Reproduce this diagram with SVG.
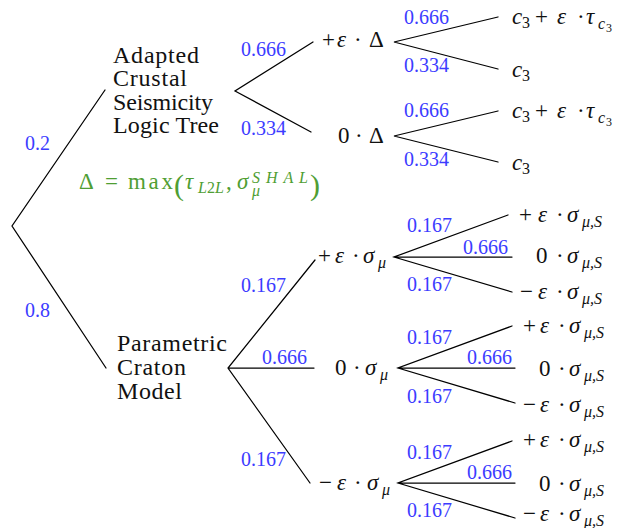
<svg xmlns="http://www.w3.org/2000/svg" width="624" height="528" viewBox="0 0 624 528" font-family="Liberation Serif, serif">
<rect x="0" y="0" width="624" height="528" fill="#ffffff"/>

<g id="connectors" stroke="#000" stroke-width="1.25" fill="none" stroke-linecap="round">
<path d="M105,90 L12,226 L106,368"/>
<path d="M313,42 L235,91 L311,132"/>
<path d="M498,17 L394,42 L498,69"/>
<path d="M498,111 L394,136 L498,162"/>
<path d="M315,260 L228,368 L310,483 M228,368 H314"/>
<path d="M508,215 L394,257 L512,292 M394,257 H512"/>
<path d="M512,326 L398,368 L515,403 M398,368 H515"/>
<path d="M512,441 L398,483 L515,518 M398,483 H515"/>
</g>

<g id="edge-labels" font-family="Liberation Serif, serif" font-size="20" fill="#3c3cff">
<text font-family="Liberation Serif, serif" x="25" y="150">0.2</text>
<text font-family="Liberation Serif, serif" x="25" y="317">0.8</text>
<text font-family="Liberation Serif, serif" x="241" y="56">0.666</text>
<text font-family="Liberation Serif, serif" x="241" y="135">0.334</text>
<text font-family="Liberation Serif, serif" x="404" y="24">0.666</text>
<text font-family="Liberation Serif, serif" x="404" y="72">0.334</text>
<text font-family="Liberation Serif, serif" x="404" y="117">0.666</text>
<text font-family="Liberation Serif, serif" x="404" y="166">0.334</text>
<text font-family="Liberation Serif, serif" x="241" y="292">0.167</text>
<text font-family="Liberation Serif, serif" x="262" y="364">0.666</text>
<text font-family="Liberation Serif, serif" x="241" y="466">0.167</text>
<text font-family="Liberation Serif, serif" x="407" y="232">0.167</text>
<text font-family="Liberation Serif, serif" x="463" y="254">0.666</text>
<text font-family="Liberation Serif, serif" x="407" y="291">0.167</text>
<text font-family="Liberation Serif, serif" x="407" y="344">0.167</text>
<text font-family="Liberation Serif, serif" x="467" y="364">0.666</text>
<text font-family="Liberation Serif, serif" x="407" y="403">0.167</text>
<text font-family="Liberation Serif, serif" x="407" y="459">0.167</text>
<text font-family="Liberation Serif, serif" x="467" y="479">0.666</text>
<text font-family="Liberation Serif, serif" x="407" y="517">0.167</text>
</g>

<g id="node-crustal" font-family="Liberation Serif, serif" font-size="24" fill="#111">
<text font-family="Liberation Serif, serif" x="113" y="63" textLength="86" lengthAdjust="spacing">Adapted</text>
<text font-family="Liberation Serif, serif" x="113" y="86" textLength="74" lengthAdjust="spacing">Crustal</text>
<text font-family="Liberation Serif, serif" x="113" y="109.5" textLength="100" lengthAdjust="spacing">Seismicity</text>
<text font-family="Liberation Serif, serif" x="113" y="133" textLength="106" lengthAdjust="spacing">Logic Tree</text>
</g>

<g id="node-craton" font-family="Liberation Serif, serif" font-size="24" fill="#111">
<text font-family="Liberation Serif, serif" x="117" y="351" textLength="110" lengthAdjust="spacing">Parametric</text>
<text font-family="Liberation Serif, serif" x="117" y="375" textLength="69" lengthAdjust="spacing">Craton</text>
<text font-family="Liberation Serif, serif" x="117" y="399" textLength="65" lengthAdjust="spacing">Model</text>
</g>

<g id="node-delta-def" font-family="Liberation Serif, serif" font-size="23" fill="#4f9e33">
<text font-family="Liberation Serif, serif" x="79" y="189">Δ</text>
<text font-family="Liberation Serif, serif" x="105" y="189">=</text>
<text font-family="Liberation Serif, serif" x="128" y="189" textLength="45" lengthAdjust="spacing">max</text>
<text font-family="Liberation Serif, serif" x="174" y="195" font-size="30">(</text>
<text font-family="Liberation Serif, serif" x="185" y="189" font-style="italic">τ</text>
<text font-family="Liberation Serif, serif" x="198" y="193" font-size="16"><tspan font-style="italic">L</tspan>2<tspan font-style="italic">L</tspan></text>
<text font-family="Liberation Serif, serif" x="226" y="189">,</text>
<text font-family="Liberation Serif, serif" x="237" y="189" font-style="italic">σ</text>
<text font-family="Liberation Serif, serif" x="252" y="183" font-size="16" font-style="italic" textLength="56" lengthAdjust="spacing">SHAL</text>
<text font-family="Liberation Serif, serif" x="252" y="196" font-size="16" font-style="italic">μ</text>
<text font-family="Liberation Serif, serif" x="310" y="195" font-size="30">)</text>
</g>

<g id="node-plus-delta" font-family="Liberation Serif, serif" font-size="23" fill="#111">
<text font-family="Liberation Serif, serif" x="322" y="47">+</text><text font-family="Liberation Serif, serif" x="337" y="47" font-style="italic">ε</text><text font-family="Liberation Serif, serif" x="354" y="47">·</text><text font-family="Liberation Serif, serif" x="369" y="47">Δ</text>
</g>
<g id="node-zero-delta" font-family="Liberation Serif, serif" font-size="23" fill="#111">
<text font-family="Liberation Serif, serif" x="338" y="143">0</text><text font-family="Liberation Serif, serif" x="355" y="143">·</text><text font-family="Liberation Serif, serif" x="369" y="143">Δ</text>
</g>

<g id="leaf-c3-plus-1" font-family="Liberation Serif, serif" font-size="23" fill="#111">
<text font-family="Liberation Serif, serif" x="512" y="24" font-style="italic">c</text><text font-family="Liberation Serif, serif" x="522" y="28" font-size="16">3</text>
<text font-family="Liberation Serif, serif" x="535" y="24">+</text><text font-family="Liberation Serif, serif" x="557" y="24" font-style="italic">ε</text><text font-family="Liberation Serif, serif" x="577" y="24">·</text>
<text font-family="Liberation Serif, serif" x="586" y="24" font-style="italic">τ</text><text font-family="Liberation Serif, serif" x="598" y="29" font-size="16" font-style="italic">c</text><text font-family="Liberation Serif, serif" x="606" y="32" font-size="12">3</text>
</g>
<g id="leaf-c3-1" font-family="Liberation Serif, serif" font-size="23" fill="#111">
<text font-family="Liberation Serif, serif" x="512" y="77" font-style="italic">c</text><text font-family="Liberation Serif, serif" x="522" y="81" font-size="16">3</text>
</g>
<g id="leaf-c3-plus-2" font-family="Liberation Serif, serif" font-size="23" fill="#111">
<text font-family="Liberation Serif, serif" x="512" y="118" font-style="italic">c</text><text font-family="Liberation Serif, serif" x="522" y="122" font-size="16">3</text>
<text font-family="Liberation Serif, serif" x="535" y="118">+</text><text font-family="Liberation Serif, serif" x="557" y="118" font-style="italic">ε</text><text font-family="Liberation Serif, serif" x="577" y="118">·</text>
<text font-family="Liberation Serif, serif" x="586" y="118" font-style="italic">τ</text><text font-family="Liberation Serif, serif" x="598" y="123" font-size="16" font-style="italic">c</text><text font-family="Liberation Serif, serif" x="606" y="126" font-size="12">3</text>
</g>
<g id="leaf-c3-2" font-family="Liberation Serif, serif" font-size="23" fill="#111">
<text font-family="Liberation Serif, serif" x="512" y="170" font-style="italic">c</text><text font-family="Liberation Serif, serif" x="522" y="174" font-size="16">3</text>
</g>

<g id="node-plus-sigma" font-family="Liberation Serif, serif" font-size="23" fill="#111">
<text font-family="Liberation Serif, serif" x="318" y="263">+</text><text font-family="Liberation Serif, serif" x="335" y="263" font-style="italic">ε</text><text font-family="Liberation Serif, serif" x="352" y="263">·</text><text font-family="Liberation Serif, serif" x="363" y="263" font-style="italic">σ</text><text font-family="Liberation Serif, serif" x="378" y="268" font-size="16" font-style="italic">μ</text>
</g>
<g id="node-zero-sigma" font-family="Liberation Serif, serif" font-size="23" fill="#111">
<text font-family="Liberation Serif, serif" x="335" y="375">0</text><text font-family="Liberation Serif, serif" x="353" y="375">·</text><text font-family="Liberation Serif, serif" x="365" y="375" font-style="italic">σ</text><text font-family="Liberation Serif, serif" x="380" y="380" font-size="16" font-style="italic">μ</text>
</g>
<g id="node-minus-sigma" font-family="Liberation Serif, serif" font-size="23" fill="#111">
<text font-family="Liberation Serif, serif" x="319" y="490">−</text><text font-family="Liberation Serif, serif" x="337" y="490" font-style="italic">ε</text><text font-family="Liberation Serif, serif" x="354" y="490">·</text><text font-family="Liberation Serif, serif" x="367" y="490" font-style="italic">σ</text><text font-family="Liberation Serif, serif" x="382" y="495" font-size="16" font-style="italic">μ</text>
</g>

<g id="leaf-g1-plus" font-family="Liberation Serif, serif" font-size="23" fill="#111">
<text font-family="Liberation Serif, serif" x="519" y="222">+</text><text font-family="Liberation Serif, serif" x="538" y="222" font-style="italic">ε</text><text font-family="Liberation Serif, serif" x="556" y="222">·</text><text font-family="Liberation Serif, serif" x="567" y="222" font-style="italic">σ</text><text font-family="Liberation Serif, serif" x="582" y="227" font-size="16" font-style="italic">μ,S</text>
</g>
<g id="leaf-g1-zero" font-family="Liberation Serif, serif" font-size="23" fill="#111">
<text font-family="Liberation Serif, serif" x="536" y="263">0</text><text font-family="Liberation Serif, serif" x="556" y="263">·</text><text font-family="Liberation Serif, serif" x="567" y="263" font-style="italic">σ</text><text font-family="Liberation Serif, serif" x="582" y="268" font-size="16" font-style="italic">μ,S</text>
</g>
<g id="leaf-g1-minus" font-family="Liberation Serif, serif" font-size="23" fill="#111">
<text font-family="Liberation Serif, serif" x="520" y="299">−</text><text font-family="Liberation Serif, serif" x="538" y="299" font-style="italic">ε</text><text font-family="Liberation Serif, serif" x="556" y="299">·</text><text font-family="Liberation Serif, serif" x="567" y="299" font-style="italic">σ</text><text font-family="Liberation Serif, serif" x="582" y="304" font-size="16" font-style="italic">μ,S</text>
</g>

<g id="leaf-g2-plus" font-family="Liberation Serif, serif" font-size="23" fill="#111">
<text font-family="Liberation Serif, serif" x="523" y="333">+</text><text font-family="Liberation Serif, serif" x="540" y="333" font-style="italic">ε</text><text font-family="Liberation Serif, serif" x="558" y="333">·</text><text font-family="Liberation Serif, serif" x="569" y="333" font-style="italic">σ</text><text font-family="Liberation Serif, serif" x="584" y="338" font-size="16" font-style="italic">μ,S</text>
</g>
<g id="leaf-g2-zero" font-family="Liberation Serif, serif" font-size="23" fill="#111">
<text font-family="Liberation Serif, serif" x="539" y="376">0</text><text font-family="Liberation Serif, serif" x="558" y="376">·</text><text font-family="Liberation Serif, serif" x="569" y="376" font-style="italic">σ</text><text font-family="Liberation Serif, serif" x="584" y="381" font-size="16" font-style="italic">μ,S</text>
</g>
<g id="leaf-g2-minus" font-family="Liberation Serif, serif" font-size="23" fill="#111">
<text font-family="Liberation Serif, serif" x="523" y="412">−</text><text font-family="Liberation Serif, serif" x="540" y="412" font-style="italic">ε</text><text font-family="Liberation Serif, serif" x="558" y="412">·</text><text font-family="Liberation Serif, serif" x="569" y="412" font-style="italic">σ</text><text font-family="Liberation Serif, serif" x="584" y="417" font-size="16" font-style="italic">μ,S</text>
</g>

<g id="leaf-g3-plus" font-family="Liberation Serif, serif" font-size="23" fill="#111">
<text font-family="Liberation Serif, serif" x="523" y="447">+</text><text font-family="Liberation Serif, serif" x="540" y="447" font-style="italic">ε</text><text font-family="Liberation Serif, serif" x="558" y="447">·</text><text font-family="Liberation Serif, serif" x="569" y="447" font-style="italic">σ</text><text font-family="Liberation Serif, serif" x="584" y="452" font-size="16" font-style="italic">μ,S</text>
</g>
<g id="leaf-g3-zero" font-family="Liberation Serif, serif" font-size="23" fill="#111">
<text font-family="Liberation Serif, serif" x="539" y="491">0</text><text font-family="Liberation Serif, serif" x="558" y="491">·</text><text font-family="Liberation Serif, serif" x="569" y="491" font-style="italic">σ</text><text font-family="Liberation Serif, serif" x="584" y="496" font-size="16" font-style="italic">μ,S</text>
</g>
<g id="leaf-g3-minus" font-family="Liberation Serif, serif" font-size="23" fill="#111">
<text font-family="Liberation Serif, serif" x="523" y="521">−</text><text font-family="Liberation Serif, serif" x="540" y="521" font-style="italic">ε</text><text font-family="Liberation Serif, serif" x="558" y="521">·</text><text font-family="Liberation Serif, serif" x="569" y="521" font-style="italic">σ</text><text font-family="Liberation Serif, serif" x="584" y="526" font-size="16" font-style="italic">μ,S</text>
</g>
</svg>
